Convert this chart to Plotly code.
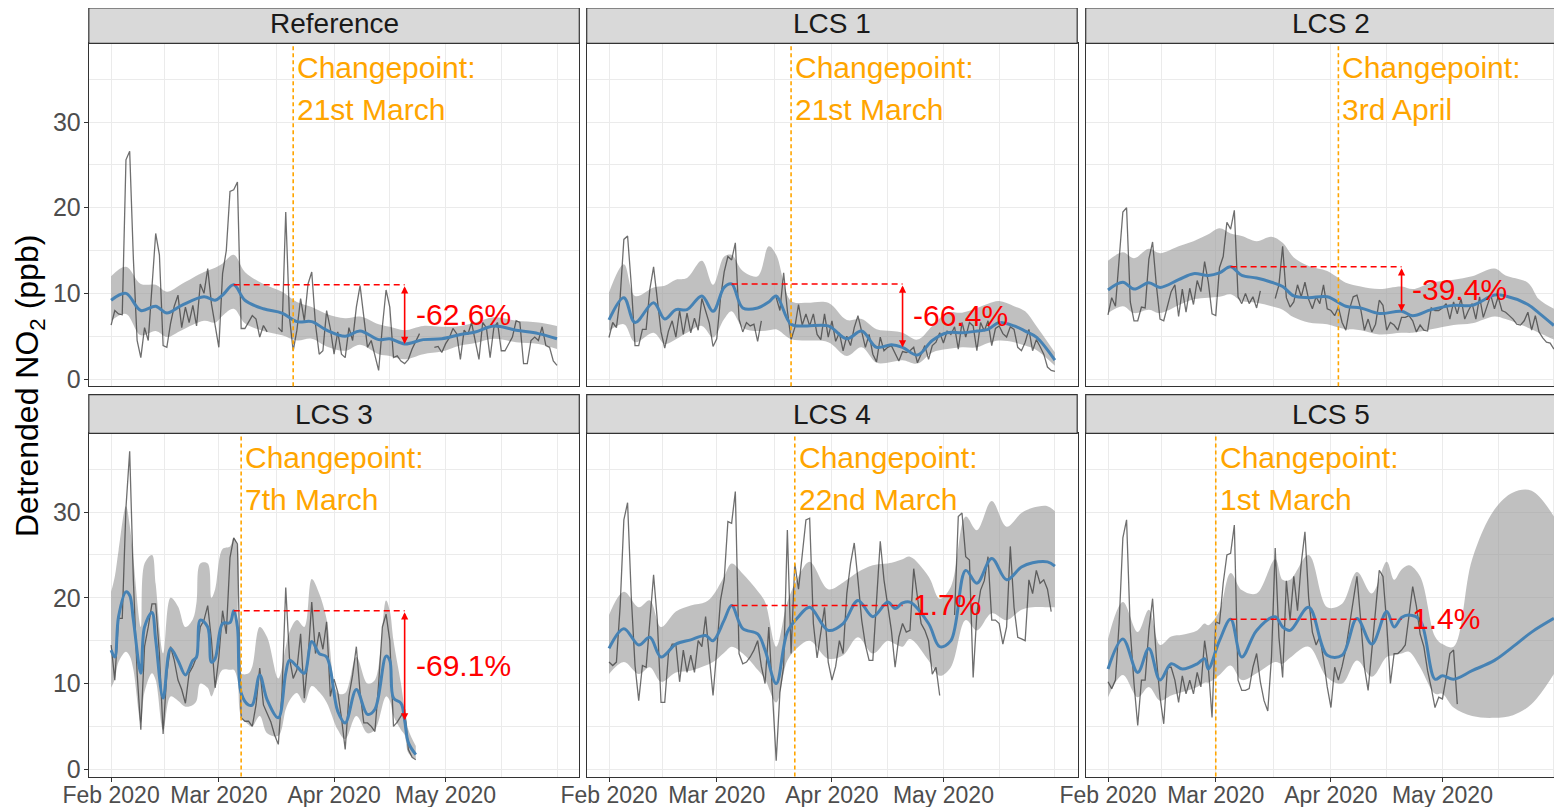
import pandas as pd
import plotly.graph_objects as go

START = pd.Timestamp("2020-02-01")

panels = ["Reference", "LCS 1", "LCS 2", "LCS 3", "LCS 4", "LCS 5"]
changepoint_dates = ["2020-03-21", "2020-03-21", "2020-04-03", "2020-03-07", "2020-03-22", "2020-03-01"]
changepoint_labels = ["21st March", "21st March", "3rd April", "7th March", "22nd March", "1st March"]
peak_date = "2020-03-05"
drop_date = "2020-04-20"
peak_values = [11.0, 11.1, 13.1, 18.5, 19.1, 17.5]
drop_values = [4.1, 3.7, 7.9, 5.7, 19.4, 17.7]
change_labels = ["-62.6%", "-66.4%", "-39.4%", "-69.1%", "1.7%", "1.4%"]

month_ticks = ["2020-02-01", "2020-03-01", "2020-04-01", "2020-05-01"]
month_labels = ["Feb 2020", "Mar 2020", "Apr 2020", "May 2020"]
minor_x_ticks = ["2020-02-15 12:00", "2020-03-16 12:00", "2020-04-16", "2020-05-16", "2020-05-31"]
y_ticks = [0, 10, 20, 30]
y_minor_ticks = [5, 15, 25, 35]

# daily detrended NO2, one value per day from 1 Feb 2020 (None = missing)
ref_no2 = [6.3, 8.0, 7.6, 7.5, 25.6, 26.6, 14.0, 4.5, 2.5, 6.0,
           4.5, 11.0, 17.0, 14.5, 3.9, 3.7, 6.5, 8.5, 9.8, 6.0,
           8.4, 6.6, 8.6, 6.2, 11.1, 10.0, 12.9, 8.8, 6.0, 3.7,
           12.3, 15.0, 21.9, 22.1, 23.0, 5.9, 5.9, 6.6, 7.4, 7.0,
           4.9, 6.25, 5.5, None, None, 6.0, 5.5, 19.5, 7.2, 3.3,
           5.7, 9.4, 6.8, 11.1, 12.5, 6.4, 2.9, 3.3, 8.0, 5.9,
           2.9, 5.5, 2.9, 2.5, 6.0, 4.5, 8.4, 10.9, 7.6, 3.7,
           4.5, 2.9, 1.0, 6.1, 10.4, 8.4, 2.5, 2.7, 2.1, 1.8,
           2.3, 3.5, 4.5, 5.3, None, None, None, 3.7, 3.8, 3.1,
           4.1, 4.8, 5.9, 5.3, 2.3, 5.7, 5.2, 6.6, 4.5, 2.3,
           6.6, 6.0, 2.5, 6.0, 6.6, 3.3, 3.3, 4.2, 4.9, 6.8,
           6.6, 1.8, 1.8, 4.5, 4.9, 4.5, 6.1, 3.9, 3.7, 2.1,
           1.6]
lcs1_no2 = [4.85, 6.6, 6.0, 9.5, 16.3, 16.7, 11.0, 3.9, 3.9, 5.8,
            5.8, 10.5, 13.1, 9.0, 5.5, 3.6, 5.6, 6.8, 4.9, 8.0,
            5.2, 7.7, 5.4, 7.1, 5.7, 9.4, 7.8, 6.5, 3.8, 4.7,
            9.4, 12.5, 14.3, 13.9, 15.9, 7.0, 5.5, 6.6, 6.2, 6.4,
            4.4, 6.8, None, None, None, 9.5, 8.0, 12.4, 8.0, 4.6,
            6.0, 8.7, 6.3, 7.6, 6.2, 7.6, 5.2, 4.6, 7.6, 4.9,
            6.8, 4.4, 5.4, 3.3, 5.0, 3.9, 6.0, 7.4, 5.4, 3.7,
            5.2, 2.9, 2.0, 4.9, 3.3, 3.7, 3.9, 2.9, 2.1, 3.2,
            3.1, 3.3, 3.7, 1.9, 2.9, 3.9, 2.3, 3.9, 4.3, 5.4,
            4.2, 5.6, 5.2, 6.1, 3.5, 6.6, 4.9, 6.6, 6.2, 3.3,
            6.6, 5.6, 6.8, 3.9, 5.9, 6.2, 5.3, 4.9, 6.1, 5.8,
            3.7, 3.3, 4.3, 5.8, 3.3, 4.6, 3.8, 2.9, 1.4, 1.0,
            0.9]
lcs2_no2 = [7.5, 9.5, 8.5, 14.0, 19.5, 20.0, 9.0, 6.8, 6.8, 8.4,
            8.3, 14.0, 16.0, 11.0, 7.0, 6.8, 8.6, 10.2, 11.0, 7.3,
            10.5, 7.8, 10.6, 8.7, 11.5, 10.2, 13.7, 11.3, 7.6, 7.4,
            13.0, 14.3, 18.3, 17.5, 19.7, 9.6, 8.8, 10.0, 8.8, 9.6,
            8.3, 10.3, None, None, None, 9.4, 11.0, 15.5, 9.5, 8.4,
            9.0, 11.0, 9.6, 11.3, 9.3, 8.2, 9.6, 8.8, 11.0, 8.2,
            8.0, 7.4, 8.4, 6.6, 5.7, 8.2, 9.6, 9.8, 8.2, 5.7,
            7.0, 5.5, 6.4, 9.2, 8.6, 5.7, 6.6, 6.3, 5.7, 7.2,
            7.2, 7.4, 6.8, 5.5, 6.3, 5.7, 5.6, 8.3, 8.0, 8.0,
            8.3, 8.8, 7.0, 9.0, 7.6, 9.4, 7.0, 8.0, 8.8, 7.0,
            9.6, 7.2, 8.4, 9.8, 8.2, 9.6, 8.0, 7.8, 7.4, 7.0,
            6.4, 6.3, 6.8, 7.8, 5.7, 7.4, 5.5, 4.8, 4.3, 4.2,
            3.5]
lcs3_no2 = [14.5, 10.4, 17.6, 17.6, 30.5, 37.1, 22.0, 11.2, 4.6, 14.3,
            16.6, 19.3, 19.3, 13.5, 4.1, 11.2, 14.3, 12.7, 10.4, 9.3,
            7.7, 11.2, 12.0, 13.1, 16.6, 17.4, 19.1, 15.1, 9.5, 13.1,
            18.5, 15.8, 24.7, 27.0, 26.3, 6.0, 5.6, 5.6, 5.0, 7.5,
            11.8, 7.5, 6.5, 5.5, 4.0, 2.9, 9.0, 21.2, 13.0, 10.6,
            11.6, 15.8, 8.3, 13.0, 19.5, 13.5, 16.0, 14.0, 17.2, 8.5,
            10.5, 9.0, 6.0, 2.3, 8.5, 11.0, 14.3, 9.0, 5.4, 5.4,
            5.0, 4.4, 10.0, 16.6, 18.1, 15.0, 5.0, 5.5, 6.2, 7.0,
            2.3, 1.4, 1.1]
lcs4_no2 = [12.5, 12.1, 12.5, 19.0, 29.1, 31.1, 20.1, 12.1, 8.0, 12.1,
            11.9, 17.4, 22.7, 17.4, 7.8, 7.8, 13.5, 14.6, 14.6, 10.2,
            13.9, 11.3, 13.3, 11.3, 15.0, 14.3, 17.8, 13.1, 8.6, 13.9,
            19.7, 22.1, 28.9, 28.7, 32.4, 13.5, 12.3, 12.5, 13.1, 13.9,
            15.0, 12.0, 10.0, 16.6, 8.0, 1.0, 9.0, 12.0, 27.9, 13.5,
            24.0, 21.0, 25.0, 29.1, 29.3, 17.0, 13.0, 16.0, 18.9, 12.5,
            10.4, 12.0, 15.0, 13.5, 20.5, 24.0, 26.4, 22.1, 17.4, 14.5,
            12.7, 12.7, 20.1, 26.6, 22.1, 19.0, 16.2, 11.9, 15.4, 17.0,
            16.0, 16.2, 23.4, 20.1, 17.0, 16.2, 15.0, 11.1, 11.9, 8.6,
            None, None, None, 18.0, 29.5, 29.9, 24.8, 24.4, 10.7, 18.2,
            20.9, 22.0, 24.8, 17.4, 17.4, 17.0, 14.6, 16.6, 26.0, 18.9,
            15.4, 15.2, 15.0, 22.1, 20.5, 23.2, 21.7, 22.1, 21.0, 18.4]
lcs5_no2 = [10.2, 9.4, 10.4, 17.0, 27.0, 29.1, 16.2, 10.0, 5.1, 10.4,
            10.4, 16.2, 19.9, 13.1, 8.4, 5.3, 11.9, 11.9, 10.4, 7.8,
            10.9, 8.8, 10.4, 8.8, 11.3, 9.6, 15.0, 11.9, 6.05, 17.2,
            17.0, 21.7, 25.0, 25.2, 28.5, 10.4, 9.2, 9.2, 9.4, 11.9,
            13.5, 10.2, 8.0, 6.8, 13.1, 25.8, 15.4, 10.7, 22.0, 17.4,
            22.5, 18.5, 24.0, 27.7, 20.0, 16.0, 14.5, 15.5, 12.8, 9.6,
            7.2, 11.9, 10.4, 12.0, 14.0, 17.0, 19.9, 22.5, 17.4, 11.9,
            9.2, 14.0, 18.0, 23.2, 22.5, 17.0, 10.0, 13.5, 13.5, 13.9,
            14.5, 17.8, 21.3, 19.0, 15.8, 14.3, 11.5, 9.5, 7.2, 8.4,
            8.2, 10.7, 13.5, 13.9, 7.6]

# smooth fit and its confidence band (day offsets from 1 Feb 2020)
ref_fit_day = [0, 4, 8, 12, 15, 19, 25, 28, 30, 33, 36, 41, 46, 50, 54, 58, 63, 67, 72, 75,
               79, 84, 89, 94, 98, 103, 109, 115, 120]
ref_fit = [9.2, 10.0, 8.0, 8.5, 7.7, 8.6, 9.6, 9.2, 9.8, 11.0, 9.2, 8.2, 7.7, 6.7, 6.7, 5.7, 5.0, 5.6, 4.6, 4.7,
           4.1, 4.6, 4.7, 5.2, 5.5, 6.2, 5.7, 5.3, 4.7]
ref_hi = [12.0, 13.1, 11.1, 11.0, 10.2, 11.1, 12.5, 13.0, 13.5, 14.5, 12.5, 11.1, 10.2, 9.0, 8.4, 7.6, 7.1, 7.3, 6.4, 6.1,
          5.7, 6.2, 6.1, 6.2, 6.6, 7.2, 6.8, 6.6, 6.2]
ref_lo = [6.8, 7.6, 5.1, 5.6, 4.9, 5.7, 6.8, 6.6, 7.4, 8.2, 6.5, 5.6, 5.1, 4.5, 4.7, 3.8, 3.3, 4.0, 2.9, 2.7,
          2.3, 2.9, 3.2, 3.9, 4.2, 4.7, 4.3, 4.1, 3.5]

lcs1_fit_day = [0, 4, 7, 12, 15, 18, 21, 25, 28, 31, 33, 36, 40, 43, 45, 49, 53, 59, 64, 68,
                72, 76, 79, 83, 87, 91, 95, 99, 102, 105, 109, 112, 115, 120]
lcs1_fit = [6.9, 9.5, 6.6, 8.9, 7.0, 8.1, 8.1, 9.7, 7.9, 10.7, 11.1, 8.3, 8.3, 9.0, 9.7, 6.4, 6.2, 6.2, 4.7, 5.6,
            3.7, 4.0, 3.7, 2.8, 4.5, 5.4, 5.4, 5.6, 5.8, 6.6, 6.2, 5.6, 4.9, 2.2]
lcs1_hi = [10.1, 13.4, 9.7, 10.7, 10.9, 11.6, 11.8, 13.8, 11.0, 14.3, 14.5, 12.6, 12.0, 15.5, 14.5, 9.1, 8.9, 8.9, 6.9, 7.0,
           5.8, 5.6, 5.4, 4.6, 6.2, 7.75, 7.75, 8.3, 8.8, 9.1, 8.5, 7.9, 6.2, 3.1]
lcs1_lo = [5.6, 6.4, 4.3, 5.4, 4.1, 4.65, 5.4, 6.2, 4.85, 7.0, 7.9, 6.0, 5.6, 5.7, 5.8, 4.65, 4.5, 4.3, 2.7, 3.7,
           1.9, 2.0, 2.2, 1.8, 3.1, 3.5, 3.7, 3.7, 4.2, 4.5, 4.3, 3.9, 3.4, 1.55]

lcs2_fit_day = [0, 4, 7, 11, 14, 19, 23, 27, 30, 33, 36, 40, 44, 47, 50, 54, 59, 64, 68, 73,
                79, 82, 87, 93, 98, 104, 107, 113, 116, 120]
lcs2_fit = [10.4, 11.3, 10.5, 11.25, 10.7, 11.6, 12.3, 12.1, 12.4, 13.1, 12.1, 11.8, 11.3, 10.8, 9.7, 9.5, 9.6, 8.5, 8.3, 7.65,
            7.9, 7.4, 8.1, 8.6, 8.6, 9.8, 9.7, 8.7, 7.7, 6.25]
lcs2_hi = [13.8, 14.8, 14.1, 15.2, 14.7, 15.5, 16.1, 16.9, 17.6, 17.0, 16.7, 16.1, 16.6, 15.9, 14.2, 13.2, 12.6, 11.25, 10.8, 10.5,
           10.8, 10.5, 11.25, 11.6, 12.0, 12.9, 12.1, 11.25, 9.3, 8.2]
lcs2_lo = [7.7, 8.5, 7.7, 8.1, 7.7, 8.6, 9.3, 9.5, 9.6, 9.9, 9.1, 8.9, 8.5, 8.1, 7.2, 6.6, 6.4, 5.8, 5.7, 5.2,
           5.4, 5.4, 5.8, 6.3, 6.5, 7.3, 7.0, 6.0, 5.4, 4.6]

lcs3_fit_day = [0, 1, 2, 4, 5, 6, 8, 9, 11, 12, 14, 16, 18, 20, 22, 23, 24, 26, 27, 28,
                30, 32, 33, 34, 35, 37, 38, 40, 42, 45, 47, 48, 50, 52, 54, 56, 58, 61, 63, 66,
                69, 71, 74, 75, 76, 78, 79, 80, 82]
lcs3_fit = [13.9, 13.1, 17.8, 20.7, 20.3, 17.4, 11.2, 16.6, 18.3, 15.1, 8.3, 14.1, 12.7, 11.0, 12.7, 13.1, 17.4, 16.6, 12.5, 12.9,
            17.0, 17.1, 18.5, 16.6, 8.9, 7.5, 7.5, 11.0, 8.1, 6.0, 11.2, 12.7, 12.0, 11.2, 14.9, 13.5, 13.1, 6.75, 5.4, 9.3,
            6.4, 7.0, 13.2, 12.7, 8.3, 7.7, 5.7, 3.1, 1.7]
lcs3_hi = [20.7, 22.5, 25.5, 30.7, 28.5, 24.5, 16.6, 24.0, 25.0, 21.6, 13.5, 20.0, 19.0, 16.6, 17.5, 19.5, 24.0, 24.0, 20.0, 21.0,
           25.7, 26.0, 27.0, 26.0, 11.2, 11.2, 12.0, 16.6, 15.4, 10.6, 14.3, 16.0, 17.4, 16.6, 22.2, 20.5, 17.5, 8.9, 8.9, 13.1,
           10.0, 10.4, 19.7, 18.5, 15.0, 10.0, 7.0, 4.6, 2.7]
lcs3_lo = [9.5, 10.5, 12.5, 13.7, 13.2, 11.6, 5.4, 9.0, 11.2, 10.4, 4.6, 8.5, 8.0, 7.3, 7.5, 8.0, 10.0, 9.5, 8.5, 9.5,
           11.6, 11.6, 11.6, 10.5, 6.2, 5.2, 5.0, 6.2, 4.2, 3.9, 7.0, 8.0, 8.9, 7.7, 9.7, 9.0, 7.8, 4.6, 3.5, 6.2,
           4.2, 4.6, 8.5, 8.0, 6.2, 4.6, 4.0, 1.9, 1.2]

lcs4_fit_day = [0, 4, 8, 11, 14, 18, 22, 26, 28, 31, 33, 36, 40, 42, 45, 48, 51, 54, 59, 63,
                67, 71, 75, 77, 79, 81, 86, 89, 92, 96, 99, 103, 107, 111, 114, 118, 120]
lcs4_fit = [14.1, 16.4, 14.5, 15.4, 13.1, 14.6, 15.1, 15.6, 15.0, 17.4, 19.1, 16.4, 15.8, 13.9, 10.0, 16.0, 17.8, 18.9, 16.2, 17.0,
            19.7, 17.8, 19.5, 18.75, 19.4, 19.5, 17.0, 14.3, 15.0, 23.2, 21.7, 24.6, 22.1, 23.6, 24.1, 24.2, 23.7]
lcs4_hi = [18.0, 20.7, 18.9, 19.7, 16.6, 18.4, 19.1, 19.5, 20.3, 22.5, 24.0, 22.8, 20.8, 19.5, 14.3, 19.5, 22.5, 24.2, 21.0, 21.8,
           23.0, 23.8, 24.0, 24.2, 24.5, 24.8, 22.5, 19.9, 21.3, 29.5, 27.9, 31.3, 28.3, 29.9, 30.5, 30.7, 30.1]
lcs4_lo = [11.1, 12.5, 11.1, 11.9, 10.2, 11.3, 11.5, 12.1, 12.5, 13.6, 14.3, 13.5, 11.6, 10.5, 7.8, 12.7, 14.3, 15.0, 12.9, 13.3,
           15.4, 13.5, 15.0, 14.6, 14.3, 15.2, 12.7, 10.9, 11.9, 17.4, 16.2, 18.2, 17.4, 18.6, 18.9, 18.9, 18.9]

lcs5_fit_day = [0, 4, 8, 11, 14, 17, 20, 24, 26, 27, 30, 33, 36, 40, 45, 47, 49, 54, 59, 63,
                67, 71, 75, 77, 79, 81, 84, 88, 90, 93, 98, 104, 109, 114, 120]
lcs5_fit = [11.7, 15.2, 11.3, 14.1, 10.4, 12.3, 11.7, 12.3, 12.9, 11.7, 15.0, 17.5, 13.1, 16.2, 17.8, 16.6, 16.2, 18.9, 13.3, 13.3,
            17.6, 14.6, 18.4, 16.6, 17.7, 18.0, 17.4, 10.5, 10.9, 10.5, 11.5, 12.7, 14.3, 16.0, 17.6]
lcs5_hi = [15.2, 19.5, 16.0, 18.6, 14.5, 15.5, 15.7, 16.2, 17.0, 16.8, 18.5, 22.9, 20.9, 20.5, 24.5, 22.1, 22.1, 25.0, 18.9, 19.3,
           23.0, 20.5, 24.2, 22.1, 23.3, 23.8, 22.5, 15.5, 14.6, 14.3, 24.5, 30.3, 32.3, 32.5, 29.5]
lcs5_lo = [8.4, 11.0, 8.4, 9.6, 8.0, 8.6, 9.0, 9.6, 10.1, 10.1, 11.0, 12.1, 10.4, 11.2, 12.5, 12.3, 13.0, 14.3, 10.7, 10.0,
           12.7, 10.8, 13.1, 13.3, 13.5, 13.7, 11.9, 8.8, 8.8, 7.2, 6.2, 6.0, 6.3, 7.6, 11.1]

no2 = [ref_no2, lcs1_no2, lcs2_no2, lcs3_no2, lcs4_no2, lcs5_no2]
fit_days = [ref_fit_day, lcs1_fit_day, lcs2_fit_day, lcs3_fit_day, lcs4_fit_day, lcs5_fit_day]
fits = [ref_fit, lcs1_fit, lcs2_fit, lcs3_fit, lcs4_fit, lcs5_fit]
fits_hi = [ref_hi, lcs1_hi, lcs2_hi, lcs3_hi, lcs4_hi, lcs5_hi]
fits_lo = [ref_lo, lcs1_lo, lcs2_lo, lcs3_lo, lcs4_lo, lcs5_lo]

# ---- layout geometry, in pixels of the 1562x807 page ----
# the html body keeps an 8px margin, so the figure itself starts at (8, 8)
OFF = 8
W, H = 1562 - OFF, 807 - OFF
COLS = [(88.8, 579.0), (586.7, 1077.7), (1085.7, 1562.0)]
ROWS = [(43.3, 386.3), (433.3, 776.5)]
STRIPS = [(8.0, 43.3), (394.7, 433.3)]
PANEL_W = 490.5
PX_PER_DAY = PANEL_W / 132.0
Y_RANGE = [-0.85, 39.2]

FONT = "Liberation Sans, Arial, Helvetica, sans-serif"
GRID = "#EBEBEB"
BORDER = "#333333"


def px(x):
    return (x - OFF) / W


def py(y):
    return 1 - (y - OFF) / H


def day(d):
    return START + pd.Timedelta(days=d)


fig = go.Figure()
shapes = []
annotations = []
layout_axes = {}

for i, name in enumerate(panels):
    r, c = divmod(i, 3)
    k = i + 1
    xs = "x" if k == 1 else f"x{k}"
    ys = "y" if k == 1 else f"y{k}"
    x0, x1 = COLS[c]
    y0, y1 = ROWS[r]
    right_day = -6 + (x1 - x0) / PX_PER_DAY

    layout_axes["xaxis" if k == 1 else f"xaxis{k}"] = dict(
        type="date", domain=[px(x0), min(px(x1), 1.0)], anchor=ys,
        range=[day(-6).isoformat(), day(right_day).isoformat()],
        tickmode="array", tickvals=month_ticks, ticktext=month_labels,
        showticklabels=(r == 1), ticks="outside" if r == 1 else "",
        ticklen=4, tickwidth=1.2, tickcolor=BORDER, ticklabelstandoff=-6,
        tickfont=dict(family=FONT, size=23, color="#4D4D4D"),
        showgrid=True, gridcolor=GRID, gridwidth=1.4,
        minor=dict(tickvals=minor_x_ticks, showgrid=True, gridcolor=GRID, gridwidth=0.8, ticks=""),
        showline=True, mirror=True, linecolor=BORDER, linewidth=1.2,
        zeroline=False, automargin=False, fixedrange=True,
    )
    layout_axes["yaxis" if k == 1 else f"yaxis{k}"] = dict(
        domain=[py(y1), py(y0)], anchor=xs, range=Y_RANGE,
        tickmode="array", tickvals=y_ticks,
        showticklabels=(c == 0), ticks="outside" if c == 0 else "",
        ticklen=4, tickwidth=1.2, tickcolor=BORDER, ticklabelstandoff=-2,
        tickfont=dict(family=FONT, size=25, color="#4D4D4D"),
        showgrid=True, gridcolor=GRID, gridwidth=1.4,
        minor=dict(tickvals=y_minor_ticks, showgrid=True, gridcolor=GRID, gridwidth=0.8, ticks=""),
        showline=True, mirror=True, linecolor=BORDER, linewidth=1.2,
        zeroline=False, automargin=False, fixedrange=True,
    )

    fd = [day(d) for d in fit_days[i]]
    # confidence band
    fig.add_trace(go.Scatter(
        x=fd, y=fits_lo[i], xaxis=xs, yaxis=ys, mode="lines",
        line=dict(width=0, shape="spline", smoothing=1.0), hoverinfo="skip", showlegend=False,
    ))
    fig.add_trace(go.Scatter(
        x=fd, y=fits_hi[i], xaxis=xs, yaxis=ys, mode="lines",
        line=dict(width=0, shape="spline", smoothing=1.0), fill="tonexty",
        fillcolor="rgba(153,153,153,0.62)", hoverinfo="skip", showlegend=False,
    ))
    # daily series
    fig.add_trace(go.Scatter(
        x=[day(d) for d in range(len(no2[i]))], y=no2[i], xaxis=xs, yaxis=ys, mode="lines",
        line=dict(color="rgba(50,50,50,0.7)", width=1.3), connectgaps=False, showlegend=False,
    ))
    # smooth fit
    fig.add_trace(go.Scatter(
        x=fd, y=fits[i], xaxis=xs, yaxis=ys, mode="lines",
        line=dict(color="#4682B4", width=3, shape="spline", smoothing=1.0), showlegend=False,
    ))

    # changepoint
    cp = pd.Timestamp(changepoint_dates[i])
    shapes.append(dict(type="line", xref=xs, yref=f"{ys} domain", x0=cp, x1=cp, y0=0, y1=1,
                       line=dict(color="#FFA500", width=1.6, dash="4px,3px")))
    annotations.append(dict(x=cp + pd.Timedelta(hours=12), y=36.4, xref=xs, yref=ys,
                            text="Changepoint:", showarrow=False, xanchor="left", yanchor="middle",
                            font=dict(family=FONT, size=30, color="#FFA500")))
    annotations.append(dict(x=cp + pd.Timedelta(hours=12), y=31.5, xref=xs, yref=ys,
                            text=changepoint_labels[i], showarrow=False, xanchor="left", yanchor="middle",
                            font=dict(family=FONT, size=30, color="#FFA500")))

    # change from the pre-lockdown peak
    pk = pd.Timestamp(peak_date)
    dr = pd.Timestamp(drop_date)
    shapes.append(dict(type="line", xref=xs, yref=ys, x0=pk, x1=dr,
                       y0=peak_values[i], y1=peak_values[i],
                       line=dict(color="#FF0000", width=1.5, dash="6px,4px")))
    annotations.append(dict(x=dr, y=drop_values[i], ax=dr, ay=peak_values[i],
                            xref=xs, yref=ys, axref=xs, ayref=ys, text="",
                            showarrow=True, arrowhead=2, startarrowhead=2, arrowside="end+start",
                            arrowsize=0.9, startarrowsize=0.9, arrowwidth=1.6, arrowcolor="#FF0000",
                            standoff=0, startstandoff=0))
    annotations.append(dict(x=dr + pd.Timedelta(days=2.4), y=(peak_values[i] + drop_values[i]) / 2,
                            xref=xs, yref=ys, text=change_labels[i], showarrow=False,
                            xanchor="left", yanchor="middle",
                            font=dict(family=FONT, size=30, color="#FF0000")))

    # facet strip
    s0, s1 = STRIPS[r]
    shapes.append(dict(type="rect", xref="paper", yref="paper",
                       x0=px(x0), x1=min(px(x0 + PANEL_W), 1.002), y0=py(s1), y1=py(s0),
                       fillcolor="#D9D9D9", line=dict(color=BORDER, width=1.2)))
    annotations.append(dict(x=px(x0 + PANEL_W / 2), y=py(24.0 if r == 0 else 414.0),
                            xref="paper", yref="paper",
                            text=name, showarrow=False, xanchor="center", yanchor="middle",
                            font=dict(family=FONT, size=28, color="#1A1A1A")))

annotations.append(dict(x=px(29), y=py(386), xref="paper", yref="paper",
                        text="Detrended NO<sub>2</sub> (ppb)", showarrow=False, textangle=-90,
                        xanchor="center", yanchor="middle",
                        font=dict(family=FONT, size=32, color="#000000")))

fig.update_layout(
    width=W, height=H,
    margin=dict(l=0, r=0, t=0, b=0),
    paper_bgcolor="white", plot_bgcolor="white",
    showlegend=False,
    shapes=shapes, annotations=annotations,
    font=dict(family=FONT),
    **layout_axes,
)

fig.write_html("out.html")
